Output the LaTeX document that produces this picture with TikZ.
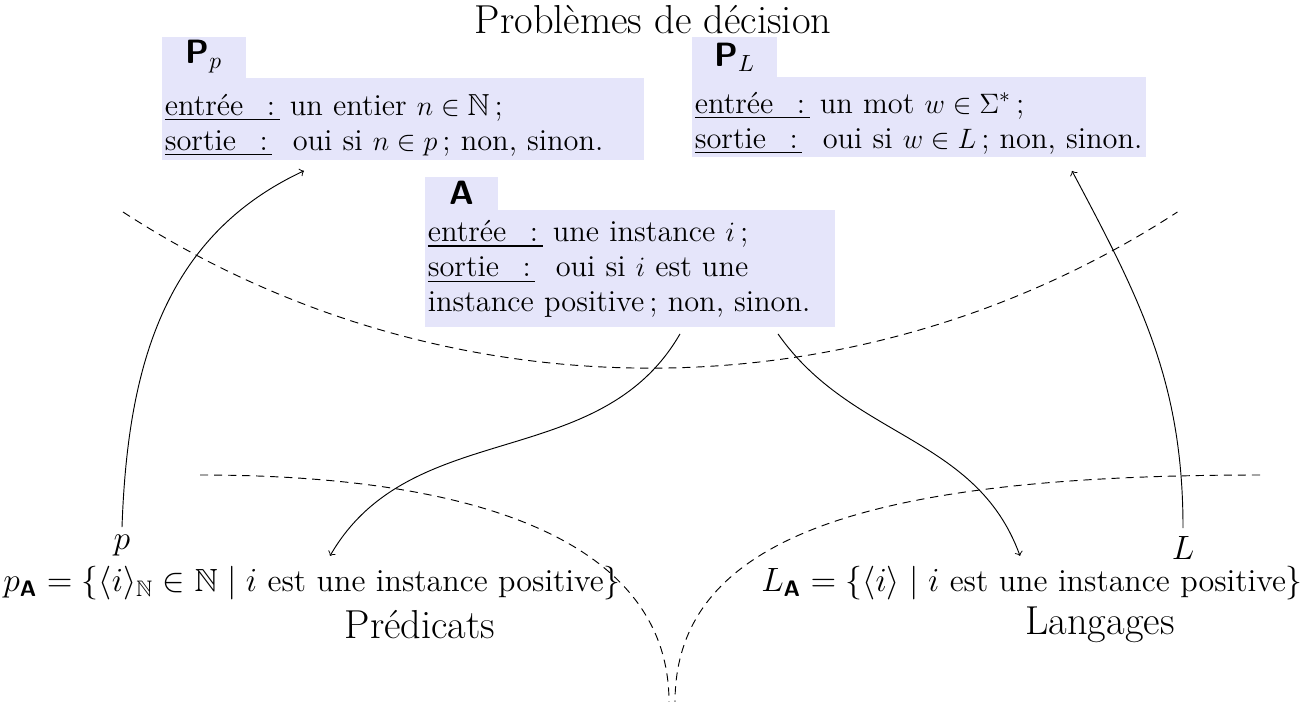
\documentclass[tikz,border=0pt]{standalone}
\usepackage{amsmath,amssymb}
\usetikzlibrary{calc}
\definecolor{boxbg}{RGB}{229,229,250}
\newcommand{\sfA}{\text{\sffamily\bfseries A}}
\newcommand{\lab}[1]{\underline{#1\hspace{10pt}:\hspace{2pt}}}
\tikzset{
  boxbody/.style={fill=boxbg, anchor=north west, align=left, inner xsep=1pt, inner ysep=0pt,
    font=\fontsize{13pt}{15pt}\selectfont},
  boxtab/.style={fill=boxbg, anchor=south west, inner sep=0pt, font=\Large},
  conn/.style={->, line width=0.4pt},
  sep/.style={dash pattern=on 3.5pt off 2.5pt, line width=0.4pt},
  big/.style={font=\fontsize{13.7pt}{16pt}\selectfont},
  bigger/.style={font=\LARGE}
}
\begin{document}
\begin{tikzpicture}[x=0.4274pt,y=0.4274pt]
\useasboundingbox (0,0) rectangle (1309,-702);
% title
\node[bigger] (title) at (653,-20) {Problèmes de décision};
% box P_p
\node[boxbody, text width=203.6pt, minimum height=35pt] (Pp) at (162,-78)
  {\rule{0pt}{14pt}\lab{entrée} un entier $n\in\mathbb{N}$\,;\\
   \lab{sortie}\ \ oui si $n\in p$\,; non, sinon.};
\node[boxtab, minimum width=35.5pt, minimum height=17.5pt] (PpTab) at (Pp.north west)
  {$\text{\sffamily\bfseries P}_p$};
% box P_L
\node[boxbody, text width=192pt, minimum height=34.2pt] (PL) at (692,-77)
  {\rule{0pt}{14pt}\lab{entrée} un mot $w\in\Sigma^*$\,;\\
   \lab{sortie}\ \ oui si $w\in L$\,; non, sinon.};
\node[boxtab, minimum width=36.3pt, minimum height=16.7pt] (PLTab) at (PL.north west)
  {$\text{\sffamily\bfseries P}_L$};
% box A
\node[boxbody, text width=173.2pt, minimum height=50pt] (A) at (425,-210)
  {\lab{entrée} une instance $i$\,;\\
   \lab{sortie}\ \ oui si $i$ est une\\
   instance positive\,; non, sinon.};
\node[boxtab, minimum width=30.8pt, minimum height=14.1pt] (ATab) at (A.north west)
  {\sffamily\bfseries A};
% bottom labels
\node[big] (p) at (122,-546) {$p$};
\node[big] (L) at (1183,-548) {$L$};
\node[big] (pA) at (312,-583)
  {$p_{\sfA} = \{\langle i\rangle_{\mathbb{N}}\in\mathbb{N} \mid i \text{ est une instance positive}\}$};
\node[big] (LA) at (1032,-583)
  {$L_{\sfA} = \{\langle i\rangle \mid i \text{ est une instance positive}\}$};
\node[bigger] (pred) at (420,-625) {Prédicats};
\node[bigger] (lang) at (1100,-625) {Langages};
% dashed separators
\draw[sep] (123,-212) arc[start angle=237, end angle=303, radius=968];
\draw[sep] (200,-475) .. controls (500,-475) and (669,-552) .. (669,-702);
\draw[sep] (1260,-475) .. controls (880,-475) and (675,-532) .. (675,-702);
% connectors
\draw[conn] (p.north) to[out=88, in=205] ($(Pp.south west)+(142,-10)$);
\draw[conn] (L.north) to[out=90, in=-62] ($(PL.south west)+(380,-13)$);
\draw[conn] ($(A.south west)+(255,-6)$) to[out=-120, in=60] ($(pA.north)+(18,2)$);
\draw[conn] ($(A.south west)+(353,-6)$) to[out=-55, in=110] ($(LA.north)+(-12,2)$);
\end{tikzpicture}
\end{document}
